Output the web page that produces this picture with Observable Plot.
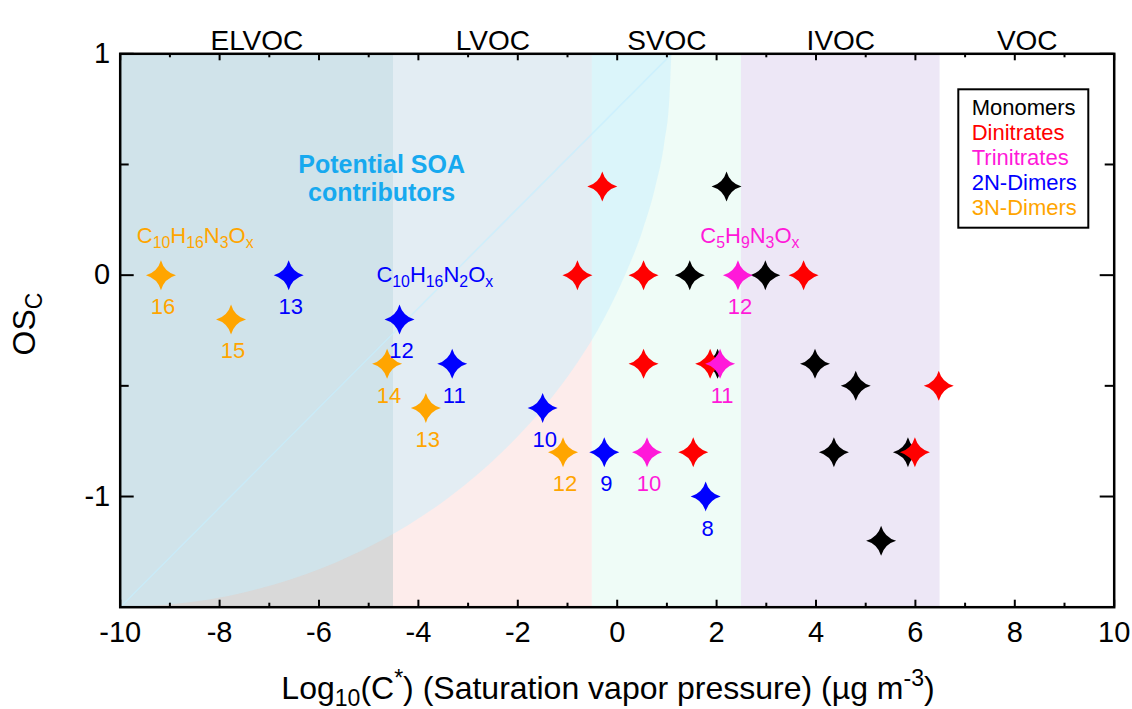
<!DOCTYPE html>
<html><head><meta charset="utf-8">
<script src="https://cdn.jsdelivr.net/npm/d3@7"></script>
<script src="https://cdn.jsdelivr.net/npm/@observablehq/plot@0.6"></script>
<style>
html,body{margin:0;padding:0;background:#fff;}
#chart{position:relative;width:1132px;height:709px;}
</style></head><body><div id="chart"></div>
<script>
// ---------- data ----------
const seriesNames = ["Monomers", "Dinitrates", "Trinitrates", "2N-Dimers", "3N-Dimers"];
const seriesColors = ["#000000", "#ff0000", "#ff19d9", "#0000ff", "#ffa500"];

const monomersX = [2.2, 1.46, 2.98, 3.98, 4.8, 2.02, 4.36, 5.85, 5.31];
const monomersY = [0.4, 0, 0, -0.4, -0.5, -0.4, -0.8, -0.8, -1.2];

const dinitratesX = [-0.3, -0.8, 0.53, 3.75, 0.53, 1.87, 6.47, 1.53, 5.99];
const dinitratesY = [0.4, 0, 0, 0, -0.4, -0.4, -0.5, -0.8, -0.8];

const trinitratesX = [2.43, 2.07, 0.6];
const trinitratesY = [0, -0.4, -0.8];
const trinitratesLabels = ["12", "11", "10"];

const dimers2NX = [-6.61, -4.38, -3.32, -1.5, -0.26, 1.78];
const dimers2NY = [0, -0.2, -0.4, -0.6, -0.8, -1.0];
const dimers2NLabels = ["13", "12", "11", "10", "9", "8"];

const dimers3NX = [-9.18, -7.77, -4.63, -3.85, -1.09];
const dimers3NY = [0, -0.2, -0.4, -0.6, -0.8];
const dimers3NLabels = ["16", "15", "14", "13", "12"];

// volatility classes
const regionNames = ["ELVOC", "LVOC", "SVOC", "IVOC", "VOC"];
const regionBounds = [-10, -4.5, -0.5, 2.5, 6.5, 10];
const regionColors = ["#d9d9d9", "#fdeceb", "#effcf7", "#ede7f6", "#ffffff"];
const regionLabelX = [-7.25, -2.5, 1, 4.5, 8.25];

// boundary of the "Potential SOA contributors" zone (read along the arc)
const soaCurveX = [-10, -9.3, -8.6, -7.79, -6.89, -5.65, -4.73, -3.34, -2.3, -1.47, -0.8, -0.26, 0.17, 0.52, 0.78, 0.96, 1.06, 1.1];
const soaCurveY = [-1.5, -1.495, -1.48, -1.45, -1.4, -1.3, -1.2, -1.0, -0.8, -0.6, -0.4, -0.2, 0, 0.2, 0.4, 0.6, 0.8, 1.0];
const soaLabel = "Potential SOA\ncontributors";
const soaLabelX = -4.74, soaLabelY = 0.438;

// formula annotations
const formulaParts = [
  [["C",""],["10","sub"],["H",""],["16","sub"],["N",""],["3","sub"],["O",""],["x","sub"]],
  [["C",""],["10","sub"],["H",""],["16","sub"],["N",""],["2","sub"],["O",""],["x","sub"]],
  [["C",""],["5","sub"],["H",""],["9","sub"],["N",""],["3","sub"],["O",""],["x","sub"]]
];
const formulaX = [-8.48, -3.66, 2.68];
const formulaY = [0.142, -0.033, 0.143];
const formulaColors = ["#ffa500", "#0000ff", "#ff19d9"];

// axes
const xTickValues = [-10, -8, -6, -4, -2, 0, 2, 4, 6, 8, 10];
const xMinorTicks = [-9, -7, -5, -3, -1, 1, 3, 5, 7, 9];
const yTickValues = [-1, 0, 1];
const yMinorTicks = [-0.5, 0.5];
const xTitleParts = [["Log",""],["10","sub"],["(C",""],["*","sup"],[") (Saturation vapor pressure) (\u00b5g m",""],["-3","sup"],[")",""]];
const yTitleParts = [["OS",""],["C","sub"]];

// ---------- build tables ----------
const seriesX = [monomersX, dinitratesX, trinitratesX, dimers2NX, dimers3NX];
const seriesY = [monomersY, dinitratesY, trinitratesY, dimers2NY, dimers3NY];
const seriesLabels = [null, null, trinitratesLabels, dimers2NLabels, dimers3NLabels];
const points = seriesNames.flatMap((name, i) => seriesX[i].map((x, j) => ({
  series: name, x, y: seriesY[i][j], label: seriesLabels[i] ? seriesLabels[i][j] : null
})));
const labelled = points.filter(d => d.label);
const curve = soaCurveX.map((x, i) => ({x, y: soaCurveY[i]}));
const chord = [curve[0], curve[curve.length - 1]];

// 4-point concave star symbol
const star = {
  draw(ctx, size) {
    const r = Math.sqrt(size / Math.PI);
    const c = 0.22 * r;
    ctx.moveTo(0, -r);
    ctx.quadraticCurveTo(c, -c, r, 0);
    ctx.quadraticCurveTo(c, c, 0, r);
    ctx.quadraticCurveTo(-c, c, -r, 0);
    ctx.quadraticCurveTo(-c, -c, 0, -r);
    ctx.closePath();
  }
};

const W = 1132, H = 709;
const mL = 119.7, mR = 18.3, mT = 53.3, mB = 102.3;
const pw = W - mL - mR, ph = H - mT - mB;
const font = "'Liberation Sans', Arial, sans-serif";

const marks = [];
regionNames.forEach((n, i) => {
  marks.push(Plot.rect([n], {x1: () => regionBounds[i], x2: () => regionBounds[i + 1], fill: regionColors[i]}));
});
marks.push(
  Plot.areaY(curve, {x: "x", y1: "y", y2: 1, curve: "monotone-x", fill: "#c6eefd", fillOpacity: 0.47}),
  Plot.line(chord, {x: "x", y: "y", stroke: "#c6eefd", strokeWidth: 1.5, strokeOpacity: 0.7}),
  Plot.text([soaLabel], {x: soaLabelX, y: soaLabelY, text: d => d, fontWeight: "bold", fontSize: 25, lineHeight: 1.12, fill: "#17a9ef"}),
  Plot.text(regionNames, {x: (d, i) => regionLabelX[i], frameAnchor: "top", dy: -24, text: d => d, fontSize: 28, fill: "black"}),
  // ticks (inward)
  Plot.ruleX(xTickValues, {x: d => d, insetTop: ph - 7, stroke: "black", strokeWidth: 2}),
  Plot.ruleX(xTickValues, {x: d => d, insetBottom: ph - 7, stroke: "black", strokeWidth: 2}),
  Plot.ruleX(xMinorTicks, {x: d => d, insetTop: ph - 4, stroke: "black", strokeWidth: 2}),
  Plot.ruleX(xMinorTicks, {x: d => d, insetBottom: ph - 4, stroke: "black", strokeWidth: 2}),
  Plot.ruleY(yTickValues, {y: d => d, insetRight: pw - 14, stroke: "black", strokeWidth: 2}),
  Plot.ruleY(yTickValues, {y: d => d, insetLeft: pw - 14, stroke: "black", strokeWidth: 2}),
  Plot.ruleY(yMinorTicks, {y: d => d, insetRight: pw - 9, stroke: "black", strokeWidth: 2}),
  Plot.ruleY(yMinorTicks, {y: d => d, insetLeft: pw - 9, stroke: "black", strokeWidth: 2}),
  Plot.axisX({ticks: xTickValues, tickSize: 0, tickPadding: 14, tickFormat: d => String(d), fontSize: 29, fill: "black", label: null}),
  Plot.axisY({ticks: yTickValues, tickSize: 0, tickPadding: 10, tickFormat: d => String(d), fontSize: 29, fill: "black", label: null}),
  Plot.dot(points, {x: "x", y: "y", fill: "series", r: 15, symbol: star}),
  Plot.text(labelled, {x: "x", y: "y", text: "label", fill: "series", dy: 32, dx: 2, fontSize: 22}),
  Plot.frame({stroke: "black", strokeWidth: 2.5})
);

const plot = Plot.plot({
  width: W, height: H,
  marginLeft: mL, marginRight: mR, marginTop: mT, marginBottom: mB,
  style: {fontFamily: font, fontSize: "20px", background: "white", color: "black", overflow: "visible"},
  x: {domain: [-10, 10]},
  y: {domain: [-1.5, 1]},
  color: {domain: seriesNames, range: seriesColors},
  marks
});
document.getElementById("chart").appendChild(plot);

// ---------- rich text (sub/superscripts) placed with Plot's scales ----------
const sxo = plot.scale("x"), syo = plot.scale("y");
const sx = sxo.apply ? (v => sxo.apply(v)) : d3.scaleLinear(sxo.domain, sxo.range);
const sy = syo.apply ? (v => syo.apply(v)) : d3.scaleLinear(syo.domain, syo.range);
const svg = d3.select(plot);

function richText(parent, x, y, parts, size, color, opts = {}) {
  const t = parent.append("text")
    .attr("x", x).attr("y", y)
    .attr("text-anchor", opts.anchor || "middle")
    .attr("fill", color)
    .style("font-family", font)
    .style("font-size", size + "px");
  if (opts.transform) t.attr("transform", opts.transform).attr("x", 0).attr("y", 0);
  let shift = 0;
  const subS = opts.subScale || 0.72;
  parts.forEach(([s, mode]) => {
    let target = 0, fs = size;
    if (mode === "sub") { target = size * 0.22; fs = size * subS; }
    if (mode === "sup") { target = -size * 0.42; fs = size * subS; }
    t.append("tspan").attr("dy", target - shift).style("font-size", fs + "px").text(s);
    shift = target;
  });
  return t;
}

const g = svg.append("g");
formulaParts.forEach((parts, i) => {
  richText(g, sx(formulaX[i]), sy(formulaY[i]), parts, 22, formulaColors[i]);
});
richText(g, 608, 699, xTitleParts, 32, "black");
richText(g, 0, 0, yTitleParts, 32, "black", {transform: "translate(35,324) rotate(-90)"});

// legend box
const lg = svg.append("g").attr("text-anchor", "start");
lg.append("rect").attr("x", 958.3).attr("y", 89.3).attr("width", 130).attr("height", 138.4)
  .attr("fill", "white").attr("stroke", "black").attr("stroke-width", 2);
seriesNames.forEach((n, i) => {
  lg.append("text").attr("x", 971.7).attr("y", 115 + 25 * i).attr("text-anchor", "start")
    .attr("fill", seriesColors[i]).style("font-family", font).style("font-size", "22px").text(n);
});
</script></body></html>
